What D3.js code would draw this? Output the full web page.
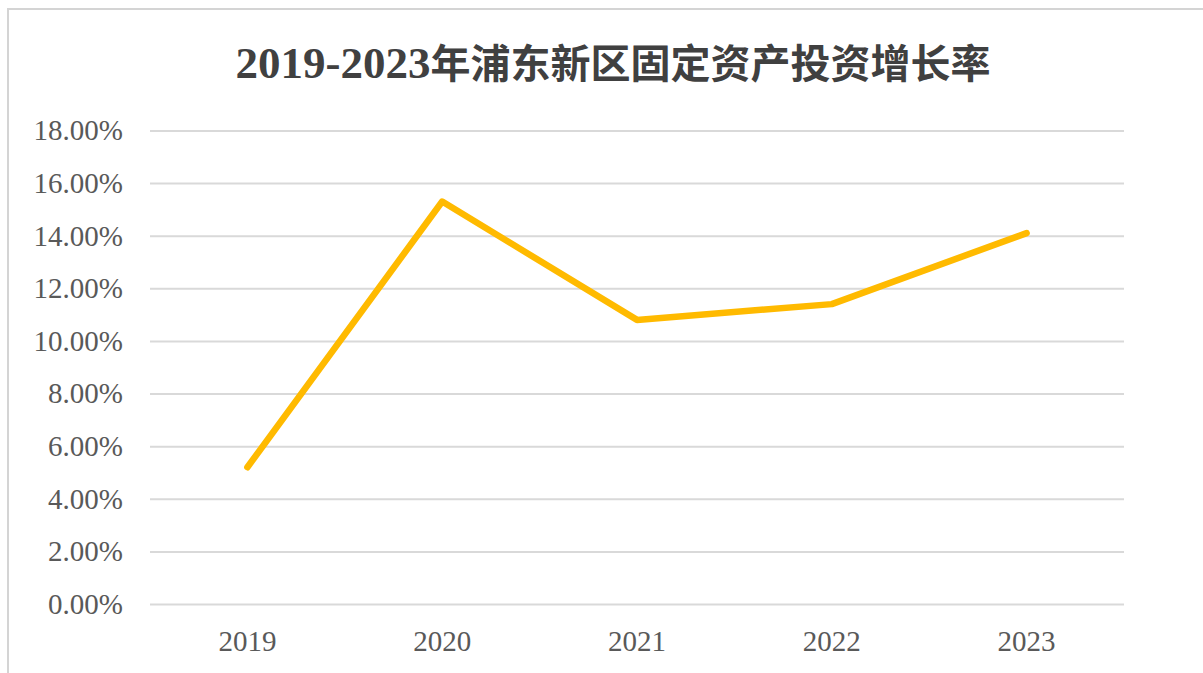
<!DOCTYPE html>
<html>
<head>
<meta charset="utf-8">
<script src="https://cdn.jsdelivr.net/npm/d3@7/dist/d3.min.js"></script>
<style>
  html, body { margin: 0; padding: 0; background: #ffffff; }
  svg { display: block; }
</style>
</head>
<body>
<svg id="chart" width="1203" height="673"></svg>
<script>
// Pudong New Area fixed-asset investment growth, 2019–2023
const years = ["2019", "2020", "2021", "2022", "2023"];
const growthRates = [0.052, 0.153, 0.108, 0.114, 0.141];
const yTickValues = [0, 0.02, 0.04, 0.06, 0.08, 0.10, 0.12, 0.14, 0.16, 0.18];
const titleYears = "2019-2023";
const titleText = "年浦东新区固定资产投资增长率";

const W = 1203, H = 673;
const margin = { top: 130.5, right: 79, bottom: 69, left: 150 };

const svg = d3.select("#chart");

// outer chart-area frame
svg.append("rect")
  .attr("x", 8).attr("y", 9)
  .attr("width", W + 20).attr("height", H + 20)
  .attr("fill", "#ffffff")
  .attr("stroke", "#d4d4d4")
  .attr("stroke-width", 2);

const x = d3.scaleBand()
  .domain(years)
  .range([margin.left, W - margin.right])
  .padding(0);

const y = d3.scaleLinear()
  .domain([0, 0.18])
  .range([H - margin.bottom, margin.top]);

const serif = "'Liberation Serif', 'Times New Roman', 'Noto Sans CJK SC', serif";

// title: Latin part in serif, Chinese part slightly smaller
const title = svg.append("text")
  .attr("x", 613)
  .attr("y", 78)
  .attr("text-anchor", "middle")
  .attr("font-family", serif)
  .attr("font-weight", "bold")
  .attr("fill", "#404040");
title.append("tspan").attr("font-size", 45).text(titleYears);
title.append("tspan").attr("font-size", 40).text(titleText);

// horizontal gridlines + y labels
const yAxis = d3.axisLeft(y)
  .tickValues(yTickValues)
  .tickSize(-(W - margin.left - margin.right))
  .tickPadding(27)
  .tickFormat(d3.format(".2%"));

const gy = svg.append("g")
  .attr("transform", `translate(${margin.left},0)`)
  .call(yAxis);
gy.select(".domain").remove();
gy.selectAll(".tick line")
  .attr("stroke", "#d9d9d9")
  .attr("stroke-width", 2);
gy.selectAll(".tick text")
  .attr("font-family", serif)
  .attr("font-size", 29)
  .attr("fill", "#595959");

// category labels
const xAxis = d3.axisBottom(x).tickSize(0).tickPadding(26);
const gx = svg.append("g")
  .attr("transform", `translate(0,${H - margin.bottom})`)
  .call(xAxis);
gx.select(".domain").remove();
gx.selectAll(".tick text")
  .attr("font-family", serif)
  .attr("font-size", 29)
  .attr("fill", "#595959");

// growth line
const line = d3.line()
  .x((d, i) => x(years[i]) + x.bandwidth() / 2)
  .y(d => y(d));

svg.append("path")
  .datum(growthRates)
  .attr("d", line)
  .attr("fill", "none")
  .attr("stroke", "#FFBA00")
  .attr("stroke-width", 6.5)
  .attr("stroke-linejoin", "round")
  .attr("stroke-linecap", "round");
</script>
</body>
</html>
